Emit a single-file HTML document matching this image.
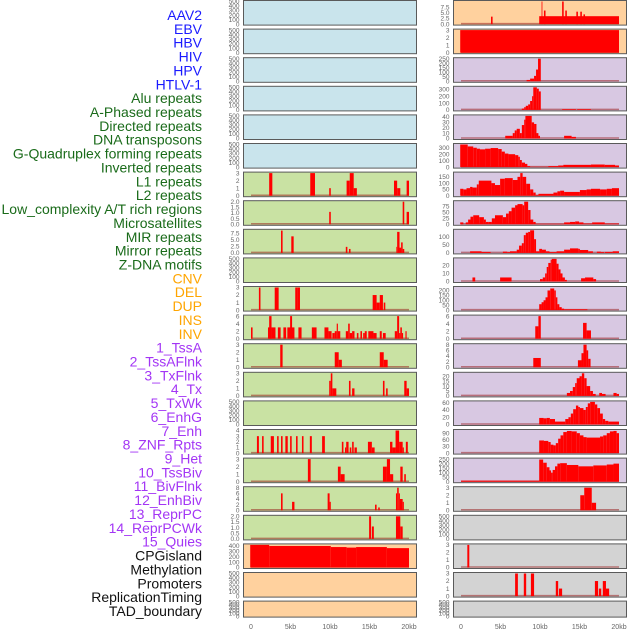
<!DOCTYPE html>
<html><head><meta charset="utf-8"><style>
html,body{margin:0;padding:0;background:#fff;}
svg{display:block;font-family:"Liberation Sans",sans-serif;}
</style></head><body>
<svg id="chart" width="630" height="630" viewBox="0 0 630 630" xmlns="http://www.w3.org/2000/svg"></svg>
<script>
const labels = ["AAV2","EBV","HBV","HIV","HPV","HTLV-1","Alu repeats","A-Phased repeats","Directed repeats","DNA transposons","G-Quadruplex forming repeats","Inverted repeats","L1 repeats","L2 repeats","Low_complexity A/T rich regions","Microsatellites","MIR repeats","Mirror repeats","Z-DNA motifs","CNV","DEL","DUP","INS","INV","1_TssA","2_TssAFlnk","3_TxFlnk","4_Tx","5_TxWk","6_EnhG","7_Enh","8_ZNF_Rpts","9_Het","10_TssBiv","11_BivFlnk","12_EnhBiv","13_ReprPC","14_ReprPCWk","15_Quies","CPGisland","Methylation","Promoters","ReplicationTiming","TAD_boundary"];
const labelGroups = ["v","v","v","v","v","v","r","r","r","r","r","r","r","r","r","r","r","r","r","s","s","s","s","s","c","c","c","c","c","c","c","c","c","c","c","c","c","c","c","o","o","o","o","o"];
const xTicks = [0,5,10,15,20];
const xTickLabels = ["0","5kb","10kb","15kb","20kb"];
const E = [];
const T500 = ["0","100","200","300","400","500"];
const T3 = ["0","1","2","3"];
const leftYmax = [500,500,500,500,500,500,3,2,8.6,500,3,6,3,3,500,4,3,8,2,420,500,500];
const leftTicks = [T500,T500,T500,T500,T500,T500,T3,["0.0","0.5","1.0","1.5","2.0"],["0.0","2.5","5.0","7.5"],T500,T3,["0","2","4","6"],T3,T3,T500,["0","1","2","3","4"],T3,["0","2","4","6","8"],["0.0","0.5","1.0","1.5","2.0"],["0","100","200","300","400"],T500,T500];
const leftSegments = [E,E,E,E,E,E,
[[2.3,2.7,3],[7.5,8.1,3],[9.9,10.1,1],[12.1,12.5,2],[12.5,13,3],[13,13.4,1],[18.1,18.5,2],[18.5,18.9,1],[19.7,20,2]],
[[9.9,10.1,1.1],[19.2,19.4,2],[19.7,20,1.1]],
[[3.8,4.0,8.5],[5.1,5.4,6.3],[12.0,12.2,2.3],[12.4,12.6,1.5],[18.4,18.5,2.3],[18.5,18.8,8],[18.8,19.0,2],[19.0,19.2,4],[19.2,19.4,1.5]],
E,
[[1.0,1.2,3],[3.0,3.5,3],[5.6,5.9,3],[5.9,6.2,3],[15.4,15.9,2],[15.9,16.3,1],[16.3,16.7,2],[16.8,17.0,1]],
[[0,0.2,3],[2.15,2.6,3],[2.3,2.6,6],[2.6,3.1,3],[3.4,3.75,3],[4.1,4.45,3],[4.6,5.5,3],[4.95,5.2,6],[6.0,6.4,3],[7.7,8.3,3],[9.3,9.8,3],[9.8,10.2,2],[10.3,10.6,1.5],[10.6,10.85,2],[10.85,11.0,4],[11.0,11.3,2],[12.0,12.3,2],[12.3,12.5,4],[12.5,12.8,1.5],[12.8,13.1,2],[13.4,13.6,1.5],[13.85,14.05,2],[14.2,14.4,1.5],[14.4,14.65,2],[14.85,15.5,2],[15.5,15.9,1.5],[16.3,16.55,2],[16.7,17.05,1.5],[18.2,18.5,2],[18.5,18.75,6],[18.75,18.9,1.5],[18.9,19.1,3],[19.1,19.25,1.5],[19.55,19.7,2]],
[[3.7,4.0,3],[10.6,11.1,2],[11.1,11.5,1],[16.3,16.8,2],[16.8,17.3,1]],
[[9.9,10.1,2],[10.1,10.3,3],[10.3,10.8,1],[12.4,12.6,2],[12.8,13.1,1],[16.7,16.9,2],[17.1,17.3,1],[19.4,19.7,2],[19.7,20,1]],
E,
[[0.75,1.0,3],[1.4,1.6,3],[2.5,2.9,3],[3.3,3.5,3],[3.8,4.0,3],[4.35,4.65,3],[4.95,5.15,3],[5.7,5.9,3],[6.45,6.65,3],[7.45,7.7,3],[9.0,9.35,3],[11.5,11.7,2],[11.9,12.05,1],[12.05,12.35,2],[12.5,12.7,1],[12.8,13.0,2],[13.1,13.4,1],[14.8,15.3,2],[15.3,15.65,1],[17.6,17.9,2],[17.9,18.3,1],[18.3,18.75,4],[18.75,19.2,2],[19.2,19.35,1],[19.6,19.85,2]],
[[7.2,7.55,3],[11.0,11.35,2],[11.35,11.85,1],[16.7,17.2,2],[17.2,17.6,3],[17.6,18.0,1],[18.9,19.2,2],[19.4,19.6,1]],
[[3.8,4.0,6],[5.2,5.5,3],[9.7,9.95,6],[9.95,10.1,3],[15.7,15.9,2],[16.1,16.3,1],[18.35,18.5,6],[18.5,18.7,8],[18.7,18.85,6],[18.85,19.2,4],[19.2,19.35,3]],
[[14.95,15.2,2],[15.3,15.55,1.1],[18.35,18.9,2],[18.9,19.2,1.1]],
[[-0.1,2.3,420],[2.3,10.1,400],[10.1,12.1,380],[12.1,13.3,370],[13.3,17.2,380],[17.2,20,360]],
E,E];
const rightYmax = [10,3,250,330,42,350,180,95,140,28,230,6,8,23,62,102,250,3,500,3,3,500];
const rightTicks = [["0.0","2.5","5.0","7.5"],T3,["0","50","100","150","200","250"],["0","100","200","300"],["0","10","20","30","40"],["0","100","200","300"],["0","50","100","150"],["0","25","50","75"],["0","50","100"],["0","10","20"],["0","50","100","150","200"],["0","2","4","6"],["0","2","4","6","8"],["0","5","10","15","20"],["0","20","40","60"],["0","30","60","90"],["0","50","100","150","200","250"],T3,T500,T3,T3,T500];
const rightSegments = [
[[3.8,4.0,3.3],[9.9,20,3.5],[10.2,10.3,10],[10.5,10.7,6],[12.8,13.0,10],[13.2,13.4,6],[14.6,14.8,5.5],[15.1,15.3,5.5],[15.5,15.7,4.3]],
[[-0.1,20,3]],
[[8.3,8.75,15],[8.75,9.25,30],[9.25,9.5,60],[9.5,9.75,130],[9.75,10.1,250]],
[[7.7,8.0,20],[8.0,8.2,40],[8.2,8.5,60],[8.5,8.75,80],[8.75,9.0,130],[9.0,9.15,200],[9.15,9.6,330],[9.6,9.85,310],[9.85,10.1,270],[12.8,14.55,10],[14.7,16.45,10]],
[[5.6,6.55,5],[6.55,6.8,10],[6.8,7.05,15],[7.05,7.45,18],[7.45,7.7,10],[7.7,8.0,25],[8.0,8.15,35],[8.15,8.95,42],[8.95,9.25,30],[9.25,9.55,27],[9.55,9.8,10],[9.8,10.0,5],[13.05,14.0,5],[14.0,14.55,3]],
[[-0.1,0.85,350],[0.85,1.55,320],[1.55,2.0,300],[2.0,2.4,285],[2.4,3.05,275],[3.05,3.75,285],[3.75,4.7,295],[4.7,5.15,280],[5.15,5.55,240],[5.55,6.0,210],[6.0,6.85,200],[6.85,7.25,185],[7.25,7.45,160],[7.45,7.7,110],[7.7,8.1,70],[8.1,8.4,50],[8.4,8.75,15],[8.75,11.05,5],[11.05,12.3,15],[12.3,12.95,25],[12.95,16.45,35],[16.45,18.2,40],[18.2,19.5,35],[19.5,20,25]],
[[-0.1,0.3,55],[0.3,0.7,50],[0.7,1.15,60],[1.15,1.45,70],[1.45,2.0,65],[2.0,2.25,90],[2.25,3.85,120],[3.85,4.3,100],[4.3,4.95,85],[4.95,5.55,135],[5.55,6.55,140],[6.55,7.15,125],[7.15,7.5,150],[7.5,7.8,180],[7.8,8.25,150],[8.25,8.75,95],[8.75,9.15,50],[9.15,9.45,25],[9.45,9.8,5],[9.8,11.7,15],[11.7,12.2,25],[12.2,12.55,35],[12.55,13.05,40],[13.05,15.05,30],[15.05,15.9,45],[15.9,16.45,50],[16.45,17.6,55],[17.6,18.45,50],[18.45,19.1,55],[19.1,20,60]],
[[-0.1,0.3,8],[0.6,0.9,8],[0.9,1.2,20],[1.2,1.55,32],[1.55,2.3,38],[2.3,2.9,30],[2.9,3.15,20],[3.15,3.45,10],[3.45,3.9,10],[3.9,4.3,25],[4.3,5.3,38],[5.3,5.7,30],[5.7,6.05,45],[6.05,6.4,55],[6.4,6.85,70],[6.85,7.15,80],[7.15,7.8,85],[7.8,8.0,80],[8.0,8.5,95],[8.5,8.8,60],[8.8,9.15,20],[9.15,9.45,10],[9.45,13.05,2],[13.05,13.8,8],[13.8,14.45,10],[14.45,14.95,12],[14.95,15.5,8],[15.5,16.6,3],[16.6,18.2,8],[18.2,20,3]],
[[1.15,2.6,10],[2.6,3.75,6],[5.3,5.85,8],[5.85,6.2,5],[6.2,7.05,10],[7.05,7.35,20],[7.35,7.7,45],[7.7,7.95,60],[7.95,8.2,110],[8.2,8.5,125],[8.5,8.75,130],[8.75,9.25,140],[9.25,9.5,85],[9.5,9.9,10],[9.9,10.25,25],[10.25,10.75,20],[10.75,11.2,10],[11.2,12.1,5],[12.1,13.05,10],[13.05,13.8,20],[13.8,14.85,28],[14.85,15.05,25],[15.05,16.1,18],[16.1,16.7,10],[17.2,17.7,8],[17.7,18.1,5],[18.2,19.2,6],[19.2,20,10]],
[[1.45,1.8,5],[4.95,6.4,5],[10.0,10.35,3],[10.35,10.65,5],[10.65,10.85,10],[10.85,11.05,18],[11.05,11.35,23],[11.35,11.5,27],[11.5,12.1,28],[12.1,12.35,22],[12.35,12.6,15],[12.6,12.85,10],[12.85,13.15,5],[13.15,13.4,2],[15.2,15.7,4],[15.7,16.75,5],[16.75,17.1,3]],
[[9.9,10.2,60],[10.2,10.45,80],[10.45,10.7,100],[10.7,10.95,130],[10.95,11.3,200],[11.3,11.8,220],[11.8,12.0,200],[12.0,12.2,130],[12.2,12.45,60],[12.45,12.75,30],[12.75,13.05,15],[13.05,16.0,8]],
[[9.4,9.8,3.3],[9.8,10.1,6],[15.45,15.9,4.2],[15.9,16.45,2.2]],
[[9.15,10.1,3.3],[14.8,15.25,2.5],[15.25,15.5,5],[15.5,15.9,8],[15.9,16.1,6],[16.1,16.4,3]],
[[13.4,13.8,3],[13.8,14.15,5],[14.15,14.45,9],[14.45,14.65,13],[14.65,15.0,18],[15.0,15.3,20],[15.3,15.6,23],[15.6,15.9,18],[15.9,16.35,10],[16.35,16.7,5],[16.7,17.05,2],[17.5,17.85,3],[17.85,18.3,2],[19.3,19.7,3],[19.7,20,2]],
[[9.9,10.45,18],[10.45,10.85,17],[10.85,11.25,18],[11.25,11.9,15],[11.9,13.2,8],[13.2,13.6,15],[13.6,13.9,20],[13.9,14.2,30],[14.2,14.55,42],[14.55,14.85,52],[14.85,15.05,48],[15.05,15.5,45],[15.5,15.8,40],[15.8,16.05,48],[16.05,16.35,58],[16.35,16.95,62],[16.95,17.25,55],[17.25,17.6,45],[17.6,17.95,30],[17.95,18.25,15],[18.25,18.65,10],[18.65,20,8]],
[[9.9,10.5,57],[10.5,11.05,55],[11.05,11.35,50],[11.35,11.7,38],[11.7,12.0,35],[12.0,12.3,45],[12.3,12.6,65],[12.6,12.95,80],[12.95,13.4,95],[13.4,14.0,100],[14.0,14.65,98],[14.65,15.05,90],[15.05,15.5,80],[15.5,15.9,72],[15.9,17.6,70],[17.6,18.0,75],[18.0,18.45,80],[18.45,18.85,90],[18.85,19.3,98],[19.3,19.7,100],[19.7,20,90]],
[[0,9.9,12],[9.9,10.4,245],[10.4,10.85,210],[10.85,11.2,160],[11.2,11.4,125],[11.4,11.6,100],[11.6,11.9,130],[11.9,12.2,170],[12.2,12.55,200],[12.55,13.4,205],[13.4,14.85,185],[14.85,16.75,170],[16.75,18.45,180],[18.45,19.3,190],[19.3,20,200]],
[[15.1,15.6,2],[15.6,16.55,3],[16.55,17.1,1]],
E,
[[0.8,1.05,3]],
[[6.85,7.2,3],[7.95,8.25,3],[8.85,9.25,3],[12.0,12.3,2],[12.4,12.8,1],[16.95,17.35,2],[17.45,17.75,1],[17.95,18.35,2],[18.35,18.75,1]],
E];

const NS = "http://www.w3.org/2000/svg";
const svg = document.getElementById("chart");
function mk(tag, attrs, parent){const e=document.createElementNS(NS,tag);for(const k in attrs)e.setAttribute(k,attrs[k]);(parent||svg).appendChild(e);return e;}
const groupColor = {v:"#1a1aff",r:"#1a6b1a",s:"#ffa500",c:"#a335f5",o:"#111111"};
labels.forEach((t,i)=>{
  const el = mk("text",{x:202,y:15+i*13.86+5,"text-anchor":"end","font-size":"14",fill:groupColor[labelGroups[i]]});
  
  
  el.textContent = t;
});
const leftBg = ["#c9e4ec","#c9e4ec","#c9e4ec","#c9e4ec","#c9e4ec","#c9e4ec","#c9e2a3","#c9e2a3","#c9e2a3","#c9e2a3","#c9e2a3","#c9e2a3","#c9e2a3","#c9e2a3","#c9e2a3","#c9e2a3","#c9e2a3","#c9e2a3","#c9e2a3","#ffd19e","#ffd19e","#ffd19e"];
const rightBg = ["#ffd19e","#ffd19e"].concat(Array(15).fill("#d8c8e2")).concat(Array(5).fill("#d3d3d3"));
function drawColumn(px, x0, segs, ymaxs, ticks, bgs, labelOffset){
  const xScale = kb => x0 + kb*(158/20);
  segs.forEach((s,i)=>{
    const top = i*28.6+0.5, h = (i===21)?16:24.6;
    const g = mk("g",{});
    
    
    mk("rect",{x:px,y:top,width:173,height:h,fill:bgs[i],stroke:"#5a5a5a","stroke-width":"1"},g);
    const yb = top+h-1, yt = top+1;
    const yScale = v => yb - (v/ymaxs[i])*(yb-yt);
    ticks[i].forEach(tl=>{
      const tt = mk("text",{x:px-4,y:yScale(parseFloat(tl))+2.2,"text-anchor":"end","font-size":"6.5",fill:"#666"},g);
      
      
      tt.textContent = tl;
    });
    if (s.length) {
      mk("line",{x1:xScale(0),x2:xScale(20),y1:yb-0.5,y2:yb-0.5,stroke:"rgba(150,20,20,0.5)","stroke-width":"1.5"},g);
    }
    s.forEach(d=>{
      const b = mk("rect",{x:xScale(d[0]),y:yScale(d[2]),width:Math.max(0.8,xScale(d[1])-xScale(d[0])),height:yb-yScale(d[2]),fill:"#ff0000"},g);
      
      
    });
  });
  xTicks.forEach((k,j)=>{
    const t = mk("text",{x:xScale(k),y:629,"text-anchor":"middle","font-size":"7",fill:"#666"});
    
    
    t.textContent = xTickLabels[j];
  });
}
drawColumn(243.5, 251, leftSegments, leftYmax, leftTicks, leftBg, 0);
drawColumn(453.5, 461, rightSegments, rightYmax, rightTicks, rightBg, 22);
</script>
</body></html>
